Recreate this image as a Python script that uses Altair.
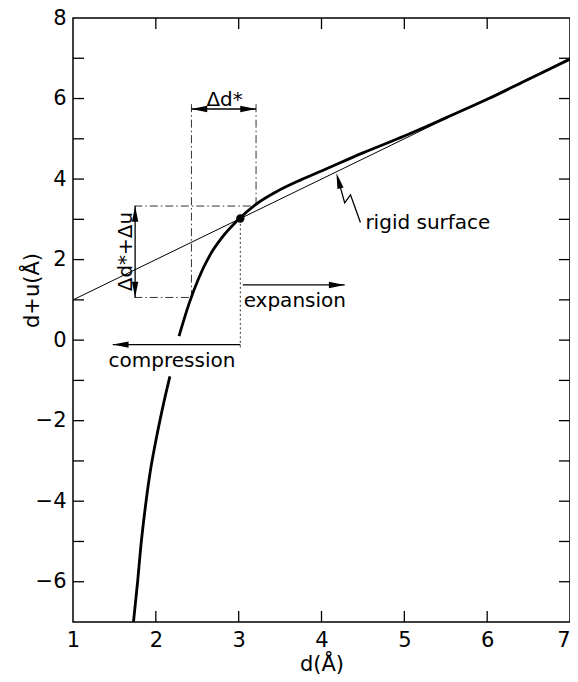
import altair as alt
import pandas as pd

# ---------------- data ----------------
# thick curve (two pieces: the curve is interrupted behind the "compression" label)
curve_d = [1.73, 1.78, 1.82, 1.87, 1.93, 2.00, 2.08, 2.17,
           2.28, 2.40, 2.52, 2.65, 2.80, 3.00, 3.20, 3.45, 3.75, 4.00, 4.50, 5.00, 5.50, 6.00, 6.50, 7.00]
curve_y = [-7.0, -6.0, -5.1, -4.2, -3.3, -2.5, -1.7, -0.9,
           0.1, 0.9, 1.55, 2.1, 2.55, 3.0, 3.36, 3.68, 3.98, 4.2, 4.65, 5.07, 5.52, 5.98, 6.48, 6.98]
curve_piece = [0] * 8 + [1] * 16
rigid_d = [1.0, 7.0]
rigid_y = [1.0, 7.0]

x_tick_vals = [2, 3, 4, 5, 6]
y_tick_vals = [-6, -5, -4, -3, -2, -1, 0, 1, 2, 3, 4, 5, 6, 7]
x_label_vals = [1, 2, 3, 4, 5, 6, 7]
y_label_vals = [-6, -4, -2, 0, 2, 4, 6, 8]

# dash-dot construction lines
dash_x1 = [2.43, 3.21, 1.74, 1.74]
dash_y1 = [5.86, 5.86, 3.33, 1.06]
dash_x2 = [2.43, 3.21, 3.21, 2.43]
dash_y2 = [1.06, 3.33, 3.33, 1.06]
# dotted line at the marked point
dot_x1 = [3.02]
dot_y1 = [3.0]
dot_x2 = [3.02]
dot_y2 = [-0.22]
# arrow shafts
shaft_x1 = [2.43, 1.75, 3.05, 3.02]
shaft_y1 = [5.74, 3.33, 1.37, -0.11]
shaft_x2 = [3.21, 1.75, 4.28, 1.48]
shaft_y2 = [5.74, 1.06, 1.37, -0.11]
# arrow heads
head_x = [2.43, 3.21, 1.75, 1.75, 4.28, 1.48, 4.18]
head_y = [5.74, 5.74, 3.33, 1.06, 1.37, -0.11, 4.15]
head_ang = [180, 0, 270, 90, 0, 180, 255]
# zigzag pointer for "rigid surface"
zig_x = [4.47, 4.35, 4.28, 4.20]
zig_y = [2.92, 3.61, 3.41, 4.00]
# marked point
pt_x = [3.02]
pt_y = [3.02]
# labels
lab_text = ["Δd*", "expansion", "compression", "rigid surface"]
lab_x = [2.83, 3.06, 1.43, 4.53]
lab_y = [5.97, 0.96, -0.52, 2.92]
rot_text = ["Δd*+Δu"]
rot_x = [1.64]
rot_y = [2.2]

# ---------------- chart ----------------
W, H = 497, 604
FONT = "DejaVu Sans"
xs = alt.Scale(domain=[1, 7], nice=False, zero=False)
ys = alt.Scale(domain=[-7, 8], nice=False, zero=False)

x_axis = alt.Axis(values=x_label_vals, title="d(Å)", ticks=False, domain=False, grid=False,
                  labelFontSize=21, labelFont=FONT, labelPadding=7, labelFlush=False,
                  labelAlign=alt.ExprRef(expr="datum.value == 7 ? 'right' : 'center'"),
                  labelColor="black", titleColor="black", titleFont=FONT, titleFontSize=21,
                  titleFontWeight="normal", titlePadding=3, labelOverlap=False)
y_axis = alt.Axis(values=y_label_vals, title="d+u(Å)", ticks=False, domain=False, grid=False,
                  labelFontSize=21, labelFont=FONT, labelPadding=7, labelFlush=False,
                  labelColor="black", titleColor="black", titleFont=FONT, titleFontSize=21,
                  titleFontWeight="normal", titleAngle=270, titleX=-41, titleY=272,
                  titleAlign="center", titleBaseline="middle", labelOverlap=False)


def X(f):
    return alt.X(f, type="quantitative", scale=xs, axis=x_axis)


def Y(f):
    return alt.Y(f, type="quantitative", scale=ys, axis=y_axis)


ydf = pd.DataFrame({"v": y_tick_vals})
xdf = pd.DataFrame({"v": x_tick_vals})

left_ticks = alt.Chart(ydf).mark_rule(color="black", strokeWidth=1.3).encode(
    y=Y("v"), x=alt.value(0), x2=alt.value(11))
right_ticks = alt.Chart(ydf).mark_rule(color="black", strokeWidth=1.3).encode(
    y=Y("v"), x=alt.value(W - 11), x2=alt.value(W))
bottom_ticks = alt.Chart(xdf).mark_rule(color="black", strokeWidth=1.3).encode(
    x=X("v"), y=alt.value(H - 11), y2=alt.value(H))
top_ticks = alt.Chart(xdf).mark_rule(color="black", strokeWidth=1.3).encode(
    x=X("v"), y=alt.value(0), y2=alt.value(11))

rigid = alt.Chart(pd.DataFrame({"d": rigid_d, "y": rigid_y})).mark_line(
    color="black", strokeWidth=1.0).encode(x=X("d"), y=Y("y"))
curve = alt.Chart(pd.DataFrame({"d": curve_d, "y": curve_y, "p": curve_piece,
                                "o": range(len(curve_d))})).mark_line(
    color="black", strokeWidth=2.8, interpolate="monotone").encode(
    x=X("d"), y=Y("y"), detail="p:N", order="o:Q")


def segs(x1, y1, x2, y2):
    return pd.DataFrame({"x1": x1, "y1": y1, "x2": x2, "y2": y2})


dashes = alt.Chart(segs(dash_x1, dash_y1, dash_x2, dash_y2)).mark_rule(
    color="#333333", strokeWidth=1.0, strokeDash=[8, 3, 1.5, 3]).encode(
    x=X("x1"), y=Y("y1"), x2="x2", y2="y2")
dots = alt.Chart(segs(dot_x1, dot_y1, dot_x2, dot_y2)).mark_rule(
    color="#333333", strokeWidth=1.0, strokeDash=[2, 2.5]).encode(
    x=X("x1"), y=Y("y1"), x2="x2", y2="y2")
shafts = alt.Chart(segs(shaft_x1, shaft_y1, shaft_x2, shaft_y2)).mark_rule(
    color="black", strokeWidth=1.3).encode(
    x=X("x1"), y=Y("y1"), x2="x2", y2="y2")

heads = alt.Chart(pd.DataFrame({"x": head_x, "y": head_y, "a": head_ang})).mark_point(
    shape="M0,0L-1,-0.2L-1,0.2Z", filled=True, color="black", opacity=1, size=1000,
    strokeWidth=0).encode(x=X("x"), y=Y("y"), angle=alt.Angle("a:Q", scale=None))

zig = alt.Chart(pd.DataFrame({"x": zig_x, "y": zig_y, "o": range(len(zig_x))})).mark_line(
    color="black", strokeWidth=1.3).encode(x=X("x"), y=Y("y"), order="o:Q")

point = alt.Chart(pd.DataFrame({"x": pt_x, "y": pt_y})).mark_point(
    shape="circle", filled=True, color="black", opacity=1, size=70).encode(x=X("x"), y=Y("y"))

lab_center = alt.Chart(pd.DataFrame({"t": lab_text[:1], "x": lab_x[:1], "y": lab_y[:1]})).mark_text(
    font=FONT, fontSize=20, color="black", baseline="middle", align="center").encode(
    x=X("x"), y=Y("y"), text="t:N")
lab_left = alt.Chart(pd.DataFrame({"t": lab_text[1:], "x": lab_x[1:], "y": lab_y[1:]})).mark_text(
    font=FONT, fontSize=20, color="black", baseline="middle", align="left").encode(
    x=X("x"), y=Y("y"), text="t:N")
rot = alt.Chart(pd.DataFrame({"t": rot_text, "x": rot_x, "y": rot_y})).mark_text(
    font=FONT, fontSize=20, color="black", baseline="middle", align="center", angle=270).encode(
    x=X("x"), y=Y("y"), text="t:N")

chart = alt.layer(
    left_ticks, bottom_ticks, right_ticks, top_ticks,
    dashes, dots, rigid, curve, shafts, heads, zig, point,
    lab_center, lab_left, rot,
).properties(
    width=W, height=H,
    background="white",
    autosize=alt.AutoSizeParams(type="none"),
    padding={"left": 65, "top": 10, "right": 0, "bottom": 52},
).configure_view(
    stroke="black", strokeWidth=1.5
)

chart.save("out.html", embed_options={"renderer": "svg", "actions": False})
